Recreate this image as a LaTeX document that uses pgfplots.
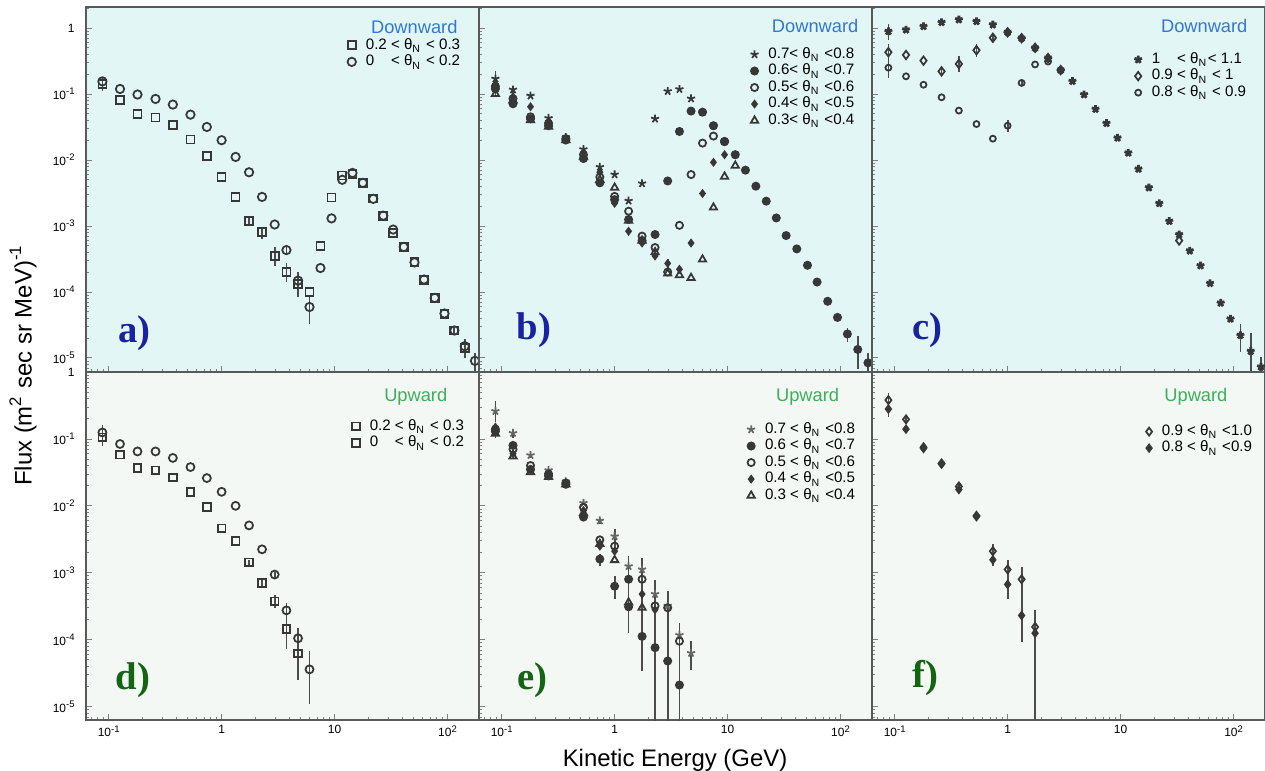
\documentclass[border=0pt]{standalone}
\usepackage{fontspec}
\setmainfont{Liberation Sans}
\newfontfamily\panelfont{Liberation Serif}
\usepackage{pgfplots}
\pgfplotsset{compat=1.18}

\definecolor{downbg}{RGB}{226,246,246}
\definecolor{upbg}{RGB}{243,248,245}
\definecolor{downtxt}{RGB}{50,120,210}
\definecolor{uptxt}{RGB}{60,175,90}
\definecolor{panelblue}{RGB}{25,35,160}
\definecolor{panelgreen}{RGB}{20,100,20}
\definecolor{mk}{RGB}{55,55,55}

% power-of-ten tick label set in the text font
\newcommand{\tp}[1]{10\raisebox{0.7ex}{\fontsize{2.7}{3}\selectfont#1}}
\newcommand{\thN}{θ\textsubscript{N}}

\tikzset{
  dirlab/.style={anchor=east, inner sep=0pt, font=\fontsize{5.2}{6}\selectfont},
  plab/.style={font=\panelfont\bfseries\fontsize{11}{12}\selectfont},
}
\pgfplotsset{
  every axis/.append style={
    scale only axis, width=3.93cm, xmode=log, ymode=log,
    xmin=0.063, xmax=190,
    axis line style={black!65, line width=0.4pt},
    tick align=inside, xtick pos=left, ytick pos=left,
    major tick length=0.6mm, minor tick length=0.3mm,
    xtick={0.1,1,10,100},
    minor xtick={0.07,0.08,0.09,0.2,0.3,0.4,0.5,0.6,0.7,0.8,0.9,2,3,4,5,6,7,8,9,20,30,40,50,60,70,80,90},
    ytick={1e-5,1e-4,1e-3,1e-2,1e-1,1},
    minor ytick={7e-6,8e-6,9e-6,2e-5,3e-5,4e-5,5e-5,6e-5,7e-5,8e-5,9e-5,2e-4,3e-4,4e-4,5e-4,6e-4,7e-4,8e-4,9e-4,2e-3,3e-3,4e-3,5e-3,6e-3,7e-3,8e-3,9e-3,0.02,0.03,0.04,0.05,0.06,0.07,0.08,0.09,0.2,0.3,0.4,0.5,0.6,0.7,0.8,0.9,2},
    xticklabels={}, yticklabels={},
    tick label style={font=\fontsize{3.4}{4}\selectfont},
    yticklabel style={anchor=east, inner sep=0.5pt, xshift=-0.9mm},
    xticklabel style={anchor=north, inner sep=0.5pt, yshift=-0.3mm},
    legend style={draw=none, fill=none, font=\fontsize{4.3}{4.8}\selectfont,
      anchor=north east, inner sep=0pt, row sep=0.3pt,
      nodes={inner sep=0.25pt, text height=3pt, text depth=0.9pt},
      /tikz/every odd column/.append style={column sep=0.9mm}},
    legend cell align=left,
  },
  every axis plot/.append style={only marks, color=mk, line width=0.5pt,
    error bars/y dir=both,
    error bars/y explicit relative,
    error bars/error mark=none,
    error bars/error bar style={line width=0.5pt, black!70}},
}

\begin{document}
\begin{tikzpicture}[x=1cm,y=1cm]
\useasboundingbox (0,0) rectangle (12.65,7.7);

% ---------------- a) downward, 0 < theta < 0.3
\begin{axis}[height=3.65cm, ymin=6.1e-6, ymax=2.08, axis background/.style={fill=downbg},
  yticklabels={\tp{-5},\tp{-4},\tp{-3},\tp{-2},\tp{-1},1},
  at={(0.86cm,3.98cm)}, anchor=south west,
  legend style={at={(0.956,0.918)}}]
\addplot[mark=square, mark size=0.4mm] table[x=E,y=F,y error plus=ep,y error minus=em] {
E F ep em
0.088 0.14 0.2 0.2
0.126 0.082 0 0
0.18 0.0498 0 0
0.26 0.044 0 0
0.37 0.0335 0 0
0.53 0.0204 0 0
0.74 0.0114 0 0
1.0 0.00546 0 0
1.33 0.00275 0 0
1.75 0.00118 0.1 0.1
2.28 0.0008 0.2 0.2
2.95 0.00035 0.35 0.3
3.75 0.0002 0.35 0.3
4.75 0.00013 0.4 0.35
6.0 0.0001 0 0
7.5 0.0005 0 0
9.4 0.0027 0 0
11.7 0.0058 0 0
14.4 0.0062 0 0
17.8 0.0045 0 0
22 0.0026 0 0
27 0.0014 0 0
33 0.00078 0 0
41 0.00048 0 0
51 0.00028 0 0
62 0.00015 0 0
77 8e-5 0 0
94 4.6e-5 0 0
115 2.6e-5 0.15 0.15
142 1.4e-5 0.3 0.3
};
\addlegendentry{0.2 < \thN\ < 0.3}
\addplot[mark=o, mark size=0.42mm] table[x=E,y=F,y error plus=ep,y error minus=em] {
E F ep em
0.088 0.155 0.15 0.15
0.126 0.119 0 0
0.18 0.098 0 0
0.26 0.084 0 0
0.37 0.069 0 0
0.53 0.0486 0 0
0.74 0.0316 0 0
1.0 0.0199 0 0
1.33 0.0111 0 0
1.75 0.0065 0 0
2.28 0.00275 0 0
2.95 0.00105 0 0
3.75 0.00043 0.15 0.15
4.75 0.000148 0.35 0.3
6.0 5.9e-5 0.5 0.45
7.5 0.00023 0 0
9.4 0.0013 0 0
11.7 0.0050 0 0
14.4 0.00635 0 0
17.8 0.00449 0 0
22 0.00257 0 0
27 0.00143 0 0
33 0.00088 0 0
41 0.00048 0 0
51 0.00028 0 0
62 0.000154 0 0
77 8.1e-5 0 0
94 4.7e-5 0 0
115 2.6e-5 0.15 0.15
142 1.5e-5 0.3 0.3
175 9e-6 0.3 0.3
};
\addlegendentry{0\hphantom{.2} < \thN\ < 0.2}
\node[dirlab, text=downtxt] at (rel axis cs:0.947,0.945) {Downward};
\node[plab, text=panelblue] at (rel axis cs:0.123,0.107) {a)};
\end{axis}

% ---------------- b) downward, 0.3 < theta < 0.8
\begin{axis}[height=3.65cm, ymin=6.1e-6, ymax=2.08, axis background/.style={fill=downbg},
  at={(4.79cm,3.98cm)}, anchor=south west,
  legend style={at={(0.959,0.893)}}]
\addplot[mark=star, mark size=0.42mm] table[x=E,y=F,y error plus=ep,y error minus=em] {
E F ep em
0.088 0.17 0.3 0.25
0.126 0.116 0.15 0.15
0.18 0.094 0 0
0.26 0.043 0 0
0.37 0.022 0 0
0.53 0.0145 0 0
0.74 0.0078 0 0
1.0 0.006 0 0
1.33 0.0024 0 0
1.75 0.0044 0 0
2.28 0.042 0 0
2.95 0.11 0 0
3.75 0.118 0 0
4.75 0.085 0 0
6.0 0.053 0 0
7.5 0.033 0 0
9.4 0.019 0 0
11.7 0.012 0 0
};
\addlegendentry{0.7< \thN\ <0.8}
\addplot[mark=*, mark size=0.36mm] table[x=E,y=F,y error plus=ep,y error minus=em] {
E F ep em
0.088 0.12 0.3 0.25
0.126 0.071 0.15 0.15
0.18 0.042 0 0
0.26 0.033 0 0
0.37 0.020 0 0
0.53 0.0105 0 0
0.74 0.0045 0 0
1.0 0.0025 0.15 0.15
1.33 0.00125 0 0
1.75 0.0006 0 0
2.28 0.00074 0 0
2.95 0.0048 0 0
3.75 0.027 0 0
4.75 0.055 0 0
6.0 0.053 0 0
7.5 0.033 0 0
9.4 0.019 0 0
11.7 0.012 0 0
14.4 0.007 0 0
17.8 0.004 0 0
22 0.00237 0 0
27 0.00132 0 0
33 0.000714 0 0
41 0.000448 0 0
51 0.000253 0 0
62 0.000141 0 0
77 7.2e-5 0 0
94 4.1e-5 0.1 0.1
115 2.3e-5 0.25 0.25
142 1.34e-5 0.6 0.5
175 8.4e-6 0.4 0.35
};
\addlegendentry{0.6< \thN\ <0.7}
\addplot[mark=o, mark size=0.36mm] table[x=E,y=F,y error plus=ep,y error minus=em] {
E F ep em
0.088 0.13 0 0
0.126 0.085 0 0
0.18 0.045 0 0
0.26 0.036 0 0
0.37 0.021 0 0
0.53 0.012 0 0
0.74 0.0055 0 0
1.0 0.0028 0 0
1.33 0.00167 0 0
1.75 0.0007 0 0
2.28 0.00047 0 0
2.95 0.0002 0 0
3.75 0.00102 0 0
4.75 0.006 0 0
6.0 0.018 0 0
7.5 0.023 0 0
9.4 0.019 0 0
};
\addlegendentry{0.5< \thN\ <0.6}
\addplot[mark=diamond*, mark size=0.32mm] table[x=E,y=F,y error plus=ep,y error minus=em] {
E F ep em
0.088 0.14 0 0
0.126 0.09 0 0
0.18 0.064 0 0
0.26 0.038 0 0
0.37 0.021 0 0
0.53 0.013 0 0
0.74 0.0065 0 0
1.0 0.0022 0 0
1.33 0.00083 0.15 0.15
1.75 0.00055 0 0
2.28 0.00035 0 0
2.95 0.00027 0.15 0.15
3.75 0.00022 0 0
4.75 0.00055 0 0
6.0 0.0031 0 0
7.5 0.0092 0 0
9.4 0.012 0 0
};
\addlegendentry{0.4< \thN\ <0.5}
\addplot[mark=triangle, mark size=0.42mm] table[x=E,y=F,y error plus=ep,y error minus=em] {
E F ep em
0.088 0.10 0 0
0.126 0.08 0 0
0.18 0.04 0 0
0.26 0.032 0 0
0.37 0.02 0 0
0.53 0.011 0 0
0.74 0.005 0 0
1.0 0.0038 0 0
1.33 0.0012 0 0
1.75 0.0006 0 0
2.28 0.0004 0 0
2.95 0.00019 0 0
3.75 0.00018 0 0
4.75 0.000163 0 0
6.0 0.00031 0 0
7.5 0.0019 0 0
9.4 0.0056 0 0
11.7 0.0082 0 0
};
\addlegendentry{0.3< \thN\ <0.4}
\node[dirlab, text=downtxt] at (rel axis cs:0.967,0.948) {Downward};
\node[plab, text=panelblue] at (rel axis cs:0.14,0.115) {b)};
\end{axis}

% ---------------- c) downward, 0.8 < theta < 1.1
\begin{axis}[height=3.65cm, ymin=6.1e-6, ymax=2.08, axis background/.style={fill=downbg},
  at={(8.72cm,3.98cm)}, anchor=south west,
  legend style={at={(0.956,0.879)}}]
\addplot[mark=star, mark size=0.4mm, line width=0.8pt] table[x=E,y=F,y error plus=ep,y error minus=em] {
E F ep em
0.088 0.89 0.3 0.25
0.126 0.94 0 0
0.18 1.06 0 0
0.26 1.22 0 0
0.37 1.34 0 0
0.53 1.26 0 0
0.74 1.12 0 0
1.0 0.86 0 0
1.33 0.70 0 0
1.75 0.50 0 0
2.28 0.35 0 0
2.95 0.23 0 0
3.75 0.156 0 0
4.75 0.098 0 0
6.0 0.059 0 0
7.5 0.036 0 0
9.4 0.0216 0 0
11.7 0.0128 0 0
14.4 0.0073 0 0
17.8 0.0038 0 0
22 0.0022 0 0
27 0.00118 0 0
33 0.00074 0 0
41 0.00042 0 0
51 0.00025 0 0
62 0.000135 0 0
77 6.8e-5 0 0
94 3.9e-5 0.1 0.1
115 2.2e-5 0.5 0.45
142 1.26e-5 0.9 0.8
175 7.3e-6 0.4 0.35
};
\addlegendentry{1\hphantom{.0} < \thN < 1.1}
\addplot[mark=diamond, mark size=0.42mm] table[x=E,y=F,y error plus=ep,y error minus=em] {
E F ep em
0.088 0.43 0.35 0.3
0.126 0.39 0 0
0.18 0.32 0 0
0.26 0.22 0.15 0.15
0.37 0.285 0.3 0.25
0.53 0.46 0.25 0.2
0.74 0.71 0.15 0.15
1.0 0.86 0 0
1.33 0.70 0 0
1.75 0.50 0 0
2.28 0.35 0 0
2.95 0.23 0 0
33 0.0006 0 0
};
\addlegendentry{0.9 < \thN\ < 1}
\addplot[mark=o, mark size=0.3mm] table[x=E,y=F,y error plus=ep,y error minus=em] {
E F ep em
0.088 0.25 0.35 0.3
0.126 0.185 0 0
0.18 0.138 0 0
0.26 0.089 0 0
0.37 0.056 0 0
0.53 0.035 0 0
0.74 0.021 0 0
1.0 0.033 0.2 0.2
1.33 0.147 0.1 0.1
1.75 0.28 0 0
2.28 0.31 0 0
2.95 0.23 0 0
};
\addlegendentry{0.8 < \thN\ < 0.9}
\node[dirlab, text=downtxt] at (rel axis cs:0.957,0.948) {Downward};
\node[plab, text=panelblue] at (rel axis cs:0.14,0.115) {c)};
\end{axis}

% ---------------- d) upward, 0 < theta < 0.3
\begin{axis}[height=3.48cm, ymin=6.3e-6, ymax=1, axis background/.style={fill=upbg},
  yticklabels={\tp{-5},\tp{-4},\tp{-3},\tp{-2},\tp{-1},1},
  xticklabels={\tp{-1},1,10,\tp{2}},
  at={(0.86cm,0.50cm)}, anchor=south west,
  legend style={at={(0.966,0.868)}}]
\addplot[mark=square, mark size=0.38mm] table[x=E,y=F,y error plus=ep,y error minus=em] {
E F ep em
0.088 0.106 0.3 0.25
0.126 0.058 0 0
0.18 0.037 0 0
0.26 0.034 0 0
0.37 0.0265 0 0
0.53 0.0162 0 0
0.74 0.0096 0 0
1.0 0.0046 0 0
1.33 0.003 0 0
1.75 0.00143 0.1 0.1
2.28 0.0007 0.1 0.1
2.95 0.000375 0.25 0.2
3.75 0.000144 0.6 0.5
4.75 6.2e-5 0.7 0.6
};
\addlegendentry{0.2 < \thN\ < 0.3}
\addplot[mark=o, mark size=0.4mm, legend image post style={mark=square}] table[x=E,y=F,y error plus=ep,y error minus=em] {
E F ep em
0.088 0.125 0.3 0.25
0.126 0.084 0 0
0.18 0.065 0 0
0.26 0.065 0 0
0.37 0.052 0 0
0.53 0.038 0 0
0.74 0.026 0 0
1.0 0.0162 0 0
1.33 0.010 0 0
1.75 0.0051 0 0
2.28 0.00224 0 0
2.95 0.00094 0.1 0.1
3.75 0.000274 0.3 0.25
4.75 0.000105 0.4 0.35
6.0 3.6e-5 0.9 0.7
};
\addlegendentry{0\hphantom{.2} < \thN\ < 0.2}
\node[dirlab, text=uptxt] at (rel axis cs:0.921,0.928) {Upward};
\node[plab, text=panelgreen] at (rel axis cs:0.12,0.115) {d)};
\end{axis}

% ---------------- e) upward, 0.3 < theta < 0.8
\begin{axis}[height=3.48cm, ymin=6.3e-6, ymax=1, axis background/.style={fill=upbg},
  xticklabels={\tp{-1},1,10,\tp{2}},
  at={(4.79cm,0.50cm)}, anchor=south west,
  legend style={at={(0.961,0.859)}}]
\addplot[mark=star, mark size=0.42mm, color=black!60] table[x=E,y=F,y error plus=ep,y error minus=em] {
E F ep em
0.088 0.26 0.4 0.3
0.126 0.122 0.15 0.15
0.18 0.057 0.1 0.1
0.26 0.034 0 0
0.37 0.023 0 0
0.53 0.011 0 0
0.74 0.006 0.1 0.1
1.0 0.0035 0.3 0.25
1.33 0.00125 0.4 0.35
1.75 0.00112 0.5 0.4
2.28 0.00048 0.6 0.5
2.95 0.00032 0.5 0.45
3.75 0.000117 0.5 0.45
4.75 6.3e-5 0.5 0.45
};
\addlegendentry{0.7 < \thN\ <0.8}
\addplot[mark=*, mark size=0.36mm] table[x=E,y=F,y error plus=ep,y error minus=em] {
E F ep em
0.088 0.13 0.2 0.2
0.126 0.08 0 0
0.18 0.035 0 0
0.26 0.028 0 0
0.37 0.021 0 0
0.53 0.0068 0 0
0.74 0.0016 0.2 0.2
1.0 0.00063 0.4 0.35
1.33 0.00031 0.7 0.6
1.75 0.000112 0.9 0.7
2.28 7.6e-5 3 0.95
2.95 4.8e-5 2 0.9
3.75 2.1e-5 1.5 0.75
};
\addlegendentry{0.6 < \thN\ <0.7}
\addplot[mark=o, mark size=0.36mm] table[x=E,y=F,y error plus=ep,y error minus=em] {
E F ep em
0.088 0.14 0 0
0.126 0.07 0 0
0.18 0.04 0 0
0.26 0.03 0 0
0.37 0.022 0 0
0.53 0.0095 0 0
0.74 0.0031 0 0
1.0 0.0025 0.2 0.2
1.33 0.0008 0.5 0.4
1.75 0.0008 0.5 0.45
2.28 0.00032 0.9 0.95
2.95 0.0003 0.8 0.95
3.75 9.5e-5 0.7 0.6
};
\addlegendentry{0.5 < \thN\ <0.6}
\addplot[mark=diamond*, mark size=0.32mm] table[x=E,y=F,y error plus=ep,y error minus=em] {
E F ep em
0.088 0.15 0 0
0.126 0.06 0 0
0.18 0.035 0 0
0.26 0.029 0 0
0.37 0.022 0 0
0.53 0.0085 0 0
0.74 0.0025 0 0
1.0 0.0021 0 0
1.33 0.0008 0 0
1.75 0.00048 0.4 0.4
2.28 0.00028 0.8 0.8
};
\addlegendentry{0.4 < \thN\ <0.5}
\addplot[mark=triangle, mark size=0.42mm] table[x=E,y=F,y error plus=ep,y error minus=em] {
E F ep em
0.088 0.12 0 0
0.126 0.055 0 0
0.18 0.032 0 0
0.26 0.027 0 0
0.37 0.021 0 0
0.53 0.0078 0 0
0.74 0.0027 0 0
1.0 0.00155 0 0
1.33 0.00036 0.5 0.4
1.75 0.0003 0.6 0.5
};
\addlegendentry{0.3 < \thN\ <0.4}
\node[dirlab, text=uptxt] at (rel axis cs:0.918,0.928) {Upward};
\node[plab, text=panelgreen] at (rel axis cs:0.135,0.115) {e)};
\end{axis}

% ---------------- f) upward, 0.8 < theta < 1.0
\begin{axis}[height=3.48cm, ymin=6.3e-6, ymax=1, axis background/.style={fill=upbg},
  xticklabels={\tp{-1},1,10,\tp{2}},
  at={(8.72cm,0.50cm)}, anchor=south west,
  legend style={at={(0.971,0.853)}}]
\addplot[mark=diamond, mark size=0.4mm] table[x=E,y=F,y error plus=ep,y error minus=em] {
E F ep em
0.088 0.38 0.3 0.25
0.126 0.196 0.1 0.1
0.18 0.075 0 0
0.26 0.043 0 0
0.37 0.0195 0.1 0.1
0.53 0.0071 0 0
0.74 0.0021 0.3 0.25
1.0 0.00112 0.4 0.6
1.33 0.0008 0.5 0.75
1.75 0.000155 0.5 0.5
};
\addlegendentry{0.9 < \thN\ <1.0}
\addplot[mark=diamond*, mark size=0.36mm] table[x=E,y=F,y error plus=ep,y error minus=em] {
E F ep em
0.088 0.28 0.3 0.25
0.126 0.14 0 0
0.18 0.072 0 0
0.26 0.042 0 0
0.37 0.0175 0 0
0.53 0.0069 0.1 0.1
0.74 0.00156 0.2 0.2
1.0 0.00067 0.4 0.4
1.33 0.00023 0.6 0.6
1.75 0.000125 1.2 0.95
};
\addlegendentry{0.8 < \thN\ <0.9}
\node[dirlab, text=uptxt] at (rel axis cs:0.906,0.928) {Upward};
\node[plab, text=panelgreen] at (rel axis cs:0.135,0.12) {f)};
\end{axis}

\node[rotate=90, font=\fontsize{6.8}{8}\selectfont] at (0.23,4.05)
  {Flux (m\textsuperscript{2} sec sr MeV)\textsuperscript{-1}};
\node[font=\fontsize{6.8}{8}\selectfont] at (6.75,0.10) {Kinetic Energy (GeV)};
\end{tikzpicture}
\end{document}
